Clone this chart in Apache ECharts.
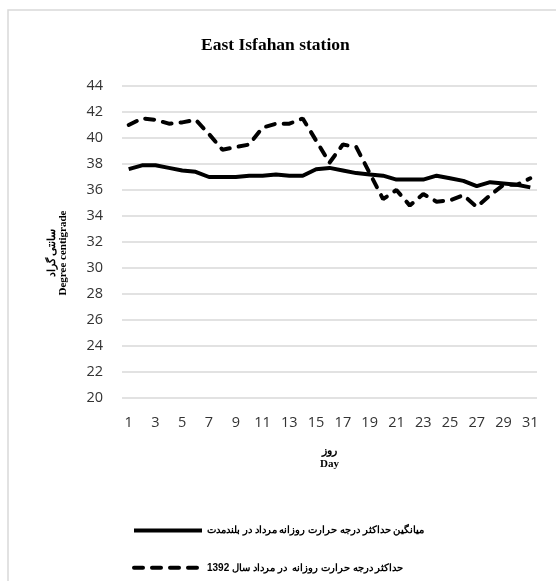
<!DOCTYPE html>
<html>
<head>
<meta charset="utf-8">
<script src="https://cdn.jsdelivr.net/npm/echarts@6/dist/echarts.min.js"></script>
<style>
  html, body { margin: 0; padding: 0; background: #fff; }
  #chart { width: 556px; height: 581px; }
</style>
</head>
<body>
<div id="chart"></div>
<script>
  // روزهای مرداد
  const days = []
  for (let d = 1; d <= 31; d++) days.push(String(d))

  // میانگین بلندمدت
  const longTermAvg = [37.6, 37.9, 37.9, 37.7, 37.5, 37.4, 37.0, 37.0, 37.0, 37.1,
    37.1, 37.2, 37.1, 37.1, 37.6, 37.7, 37.5, 37.3, 37.2, 37.1,
    36.8, 36.8, 36.8, 37.1, 36.9, 36.7, 36.3, 36.6, 36.5, 36.4, 36.2]

  // سال 1392
  const year1392 = [41.0, 41.5, 41.4, 41.1, 41.2, 41.4, 40.3, 39.1, 39.3, 39.5,
    40.8, 41.1, 41.1, 41.5, 39.8, 38.1, 39.5, 39.3, 37.3, 35.3,
    36.0, 34.8, 35.7, 35.1, 35.2, 35.6, 34.7, 35.6, 36.4, 36.4, 36.9]

  const seriesNames = [
    'میانگین حداکثر درجه حرارت روزانه مرداد در بلندمدت',
    'حداکثر درجه حرارت روزانه  در مرداد سال 1392'
  ]

  const chart = echarts.init(document.getElementById('chart'))
  const option = {
    animation: false,
    backgroundColor: '#fff',
    graphic: [{
      type: 'rect',
      shape: { x: 8, y: 10, width: 700, height: 700 },
      style: { fill: 'none', stroke: '#d9d9d9', lineWidth: 1.5 },
      z: -1
    }],
    title: {
      text: 'East Isfahan station',
      left: 196,
      top: 31,
      textStyle: {
        fontFamily: 'Liberation Serif',
        fontWeight: 'bold',
        fontSize: 17.5,
        color: '#000'
      }
    },
    grid: { left: 122, right: 19, top: 86, bottom: 183 },
    xAxis: {
      type: 'category',
      data: days,
      boundaryGap: true,
      name: 'روز\nDay',
      nameLocation: 'middle',
      nameGap: 47,
      nameTextStyle: {
        fontFamily: 'Liberation Serif',
        fontWeight: 'bold',
        fontSize: 11,
        color: '#000',
        lineHeight: 13
      },
      axisLine: { show: false },
      axisTick: { show: false },
      axisLabel: {
        interval: 1,
        margin: 17,
        fontFamily: 'Open Sans',
        fontSize: 14.5,
        color: '#333'
      }
    },
    yAxis: {
      type: 'value',
      min: 20,
      max: 44,
      interval: 2,
      name: 'سانتی گراد\nDegree centigrade',
      nameLocation: 'middle',
      nameGap: 53,
      nameTextStyle: {
        fontFamily: 'Liberation Serif',
        fontWeight: 'bold',
        fontSize: 11,
        color: '#000',
        lineHeight: 11,
        padding: [0, 22, 0, 0]
      },
      axisLine: { show: false },
      axisTick: { show: false },
      splitLine: { lineStyle: { color: '#d9d9d9', width: 1.5 } },
      axisLabel: {
        margin: 19,
        fontFamily: 'Open Sans',
        fontSize: 14.5,
        color: '#333'
      }
    },
    legend: {
      orient: 'vertical',
      left: 127,
      top: 520,
      itemWidth: 68,
      itemHeight: 14,
      itemGap: 26,
      itemStyle: { opacity: 0 },
      lineStyle: { width: 4 },
      textStyle: {
        fontFamily: 'Liberation Sans',
        fontWeight: 'bold',
        fontSize: 10,
        color: '#000'
      },
      data: seriesNames
    },
    series: [
      {
        name: seriesNames[0],
        type: 'line',
        data: longTermAvg,
        showSymbol: false,
        symbol: 'none',
        lineStyle: { color: '#000', width: 4 },
        itemStyle: { color: '#000' }
      },
      {
        name: seriesNames[1],
        type: 'line',
        data: year1392,
        showSymbol: false,
        symbol: 'none',
        lineStyle: { color: '#000', width: 4, type: [9, 9], cap: 'round' },
        itemStyle: { color: '#000' }
      }
    ]
  }
  chart.setOption(option)
</script>
</body>
</html>
